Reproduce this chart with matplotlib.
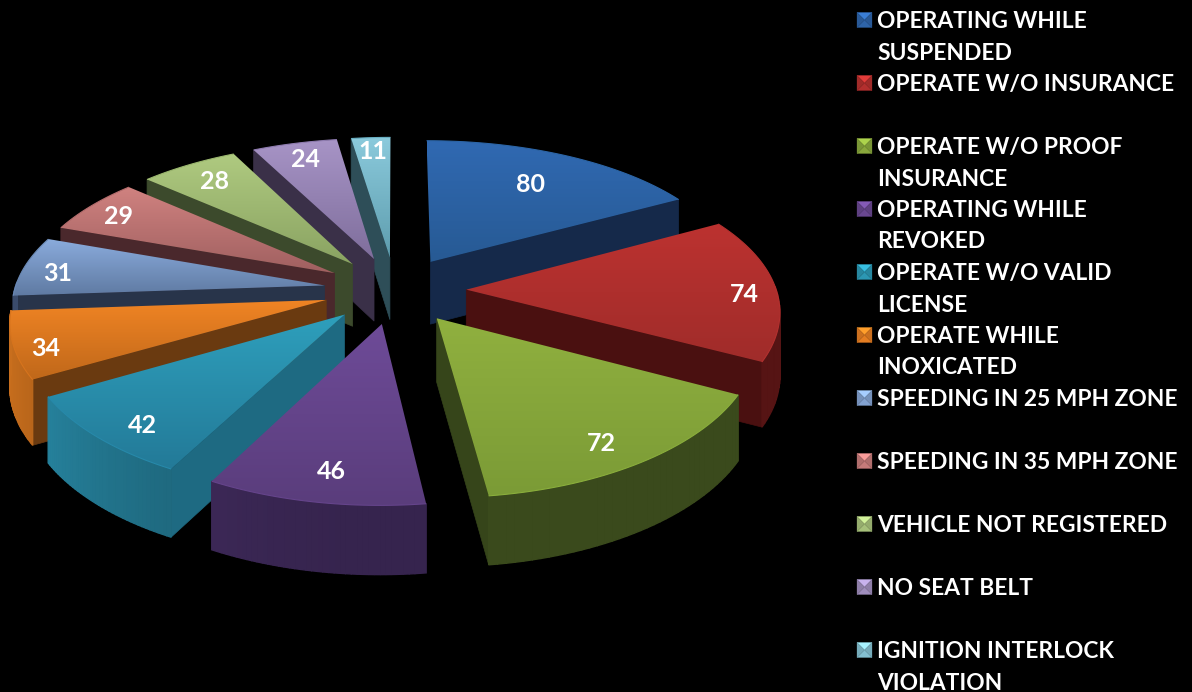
import numpy as np
import matplotlib
matplotlib.use("Agg")
import matplotlib.pyplot as plt
from matplotlib.patches import Polygon
from matplotlib.colors import to_rgb

values = [80, 74, 72, 46, 42, 34, 31, 29, 28, 24, 11]
labels = [
    ["OPERATING WHILE", "SUSPENDED"],
    ["OPERATE W/O INSURANCE"],
    ["OPERATE W/O PROOF", "INSURANCE"],
    ["OPERATING WHILE", "REVOKED"],
    ["OPERATE W/O VALID", "LICENSE"],
    ["OPERATE WHILE", "INOXICATED"],
    ["SPEEDING IN 25 MPH ZONE"],
    ["SPEEDING IN 35 MPH ZONE"],
    ["VEHICLE NOT REGISTERED"],
    ["NO SEAT BELT"],
    ["IGNITION INTERLOCK", "VIOLATION"],
]
top_light = ["#3069B2", "#BC3230", "#90B03F", "#6E4B98", "#2E9FBC", "#F08424",
             "#8AABDC", "#D08280", "#AFCA80", "#A794C6", "#8BCADC"]
top_dark = ["#275A94", "#A02C2A", "#7B9B36", "#5A3D7C", "#237A98", "#C0681A",
            "#5F7AA2", "#A06060", "#8AA362", "#7F6E9C", "#5E9DAE"]
cut_col = ["#15294A", "#4A1010", "#36451A", "#36244E", "#1E6A82", "#6A3A10",
           "#28344A", "#4A282C", "#3C4A2C", "#3A3048", "#2E4E58"]
rim_col = ["#15294A", "#561414", "#3A4A1C", "#36244E", "#1C6074", "#8A4C14",
           "#28344A", "#4A282C", "#3C4A2C", "#3A3048", "#2E4E58"]
label_radius = [0.72, 0.90, 0.81, 0.78, 0.83, 0.90, 0.89, 0.88, 0.83, 0.85, 0.87]

CX, CY, A, B, KX, KY, EXPLODE, H = 395, 290, 310, 145.5, 0.125, 0.14, 0.23, 63


def project(x, y, z=0.0):
    x, y = np.asarray(x), np.asarray(y)
    wx, wy = 1 + KX * y, 1 + KY * y
    return CX + A * x / wx, CY - B * y / wy + H * z / np.sqrt(wy)


def area(p):
    x, y = p[:, 0], p[:, 1]
    return 0.5 * np.sum(x * np.roll(y, -1) - np.roll(x, -1) * y)


def shade(c, f):
    return tuple(min(1, v * f) for v in to_rgb(c))


fig = plt.figure(figsize=(11.92, 6.92), dpi=100, facecolor="black")
ax = fig.add_axes([0, 0, 1, 1], facecolor="black")
ax.set_xlim(0, 1192)
ax.set_ylim(692, 0)
ax.axis("off")

fracs = np.array(values) / sum(values) * 2 * np.pi
ends = np.cumsum(fracs)
starts = ends - fracs
mids = (starts + ends) / 2
font = ["Lato", "Open Sans", "DejaVu Sans"]

order = np.argsort([-(EXPLODE + 0.6) * np.cos(m) for m in mids])
z = 1
for i in order:
    t = np.linspace(starts[i], ends[i], 40)
    ox, oy = EXPLODE * np.sin(mids[i]), EXPLODE * np.cos(mids[i])
    rx, ry = ox + np.sin(t), oy + np.cos(t)
    tx, ty = project(rx, ry)
    ax0, ay0 = project(ox, oy)
    top = np.vstack([[ax0, ay0], np.column_stack([tx, ty])])
    # cut faces: only those facing the viewer
    for (px, py) in ((rx[0], ry[0]), (rx[-1], ry[-1])):
        a = np.array(project(ox, oy))
        b = np.array(project(px, py))
        c = np.array(project(px, py, 1))
        d = np.array(project(ox, oy, 1))
        quad = np.array([a, b, c, d])
        first = (px == rx[0])
        if (area(quad) < 0) == first and abs(area(quad)) > 500:
            ax.add_patch(Polygon(quad, closed=True, fc=cut_col[i], ec=cut_col[i], lw=0.5, zorder=z))
    z += 1
    # outer wall, strip by strip where it faces the viewer
    for k in range(len(t) - 1):
        if np.cos((t[k] + t[k + 1]) / 2) < 0.03:
            bx, by = project(rx[k:k + 2], ry[k:k + 2], 1)
            quad = np.array([[tx[k], ty[k]], [tx[k + 1], ty[k + 1]], [bx[1], by[1]], [bx[0], by[0]]])
            sn = np.sin((t[k] + t[k + 1]) / 2)
            f = 1 + 0.45 * max(0.0, -sn) ** 2
            col = shade(rim_col[i], f)
            ax.add_patch(Polygon(quad, closed=True, fc=col, ec=col, lw=1.0, zorder=z))
    z += 1
    # top surface with a vertical gradient
    y0, y1 = top[:, 1].min(), top[:, 1].max()
    x0, x1 = top[:, 0].min(), top[:, 0].max()
    c0, c1 = np.array(to_rgb(top_light[i])), np.array(to_rgb(top_dark[i]))
    grad = np.linspace(0, 1, 64)[:, None, None] * (c1 - c0)[None, None, :] + c0[None, None, :]
    im = ax.imshow(grad, extent=(x0, x1, y1, y0), aspect="auto", zorder=z, interpolation="bilinear")
    clip = Polygon(top, closed=True, transform=ax.transData, fc="none", ec="none")
    ax.add_patch(clip)
    im.set_clip_path(clip)
    z += 1
    # thin bevel highlight along the outer edge
    ax.plot(tx, ty, color=shade(top_dark[i], 1.12), lw=0.8, zorder=z, solid_capstyle="butt")
    z += 1
ax.set_xlim(0, 1192)
ax.set_ylim(692, 0)

# value labels
for i, v in enumerate(values):
    sm, cm = np.sin(mids[i]), np.cos(mids[i])
    r = label_radius[i]
    lift = max(0.0, 0.1 - 0.1 * cm)
    lx, ly = project(EXPLODE * sm + r * sm, EXPLODE * cm + r * cm, lift)
    ax.text(lx, ly, str(v), color="white", fontsize=18, fontweight="bold", family=font,
            ha="center", va="center", zorder=500)

# legend
LEG_X, LEG_Y, STEP, M = 857, 20, 31.5, 15
for i, lab in enumerate(labels):
    yc = LEG_Y + 2 * i * STEP
    xa, xb, ya, yb = LEG_X, LEG_X + M, yc - M / 2, yc + M / 2
    xm, ym = (xa + xb) / 2, yc
    base = top_light[i]
    faces = [([(xa, ya), (xb, ya), (xm, ym)], 1.2),
             ([(xa, yb), (xb, yb), (xm, ym)], 0.95),
             ([(xa, ya), (xa, yb), (xm, ym)], 0.85),
             ([(xb, ya), (xb, yb), (xm, ym)], 0.85)]
    for pts, f in faces:
        c = shade(base, f)
        ax.add_patch(Polygon(pts, closed=True, fc=c, ec=c, lw=0.2, zorder=500))
    for n, line in enumerate(lab):
        ax.text(877, yc + 1.5 + n * STEP, line, color="white", fontsize=16.4, fontweight="bold",
                family=font, ha="left", va="center", zorder=500)

fig.savefig("out.png", dpi=100, facecolor="black")
